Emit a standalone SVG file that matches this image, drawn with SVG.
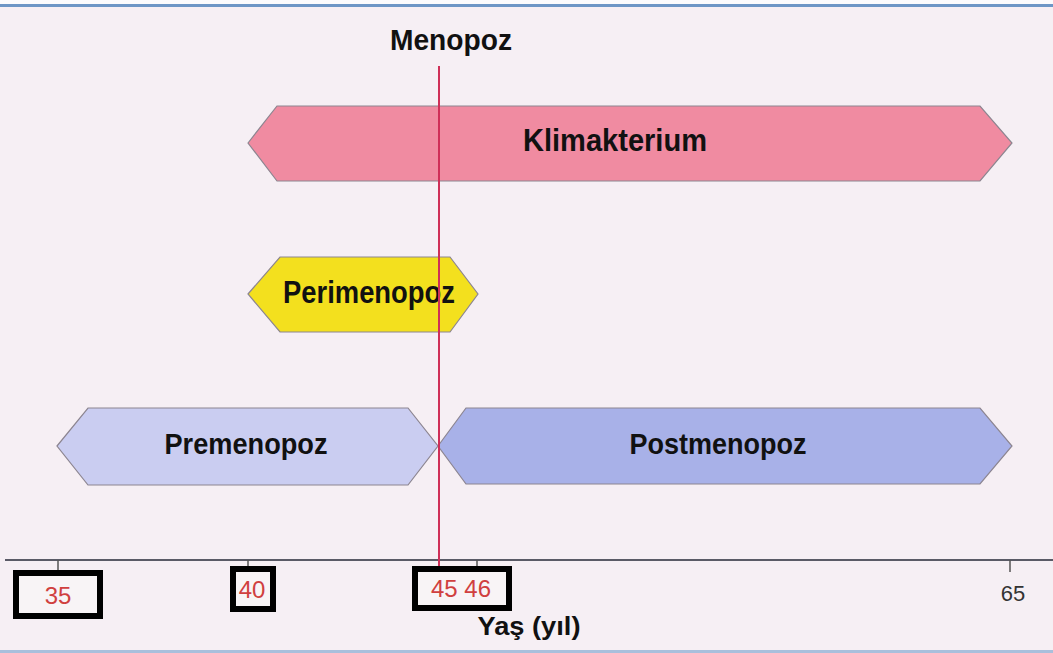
<svg xmlns="http://www.w3.org/2000/svg" width="1053" height="653" viewBox="0 0 1053 653">
<style>
.lbl{font-family:"Liberation Sans Narrow","Liberation Sans",Arial,sans-serif;font-weight:bold;fill:#111;text-anchor:middle}
.hex{stroke:#8c8590;stroke-width:1.2}
.num{font-family:"Liberation Sans",Arial,sans-serif;font-size:24px;fill:#d0403f;text-anchor:middle}
.box{fill:#f8f4f6;stroke:#000;stroke-width:6}
.tick{stroke:#555;stroke-width:1.5}
</style>
<rect x="0" y="0" width="1053" height="653" fill="#f6eff4"/>
<rect x="0" y="0" width="1053" height="4" fill="#fbfbfd"/>
<rect x="0" y="4" width="1053" height="3" fill="#6d96c6"/>
<rect x="0" y="650" width="1053" height="3" fill="#a9bfdc"/>

<g id="menopoz">
<text class="lbl" x="451" y="50" font-size="29" textLength="122" lengthAdjust="spacingAndGlyphs">Menopoz</text>
</g>

<g id="klimakterium">
<polygon class="hex" fill="#f08ba1" points="248,143 277,106 980,106 1012,143 980,181 277,181"/>
<text class="lbl" x="615" y="151" font-size="31" textLength="184" lengthAdjust="spacingAndGlyphs">Klimakterium</text>
</g>

<g id="perimenopoz">
<polygon class="hex" fill="#f3e01e" points="248,294 280,257 450,257 478,294 450,332 280,332"/>
<text class="lbl" x="369" y="303" font-size="31" textLength="172" lengthAdjust="spacingAndGlyphs">Perimenopoz</text>
</g>

<g id="premenopoz">
<polygon class="hex" fill="#cacdf1" points="57,446 88,408 408,408 438,446 408,485 88,485"/>
<text class="lbl" x="246" y="454" font-size="30" textLength="163" lengthAdjust="spacingAndGlyphs">Premenopoz</text>
</g>

<g id="postmenopoz">
<polygon class="hex" fill="#a8b1e8" points="438,446 466,408 980,408 1012,446 980,484 466,484"/>
<text class="lbl" x="718" y="454" font-size="30" textLength="177" lengthAdjust="spacingAndGlyphs">Postmenopoz</text>
</g>

<g id="connectors">
<line x1="5" y1="560" x2="1053" y2="560" stroke="#5a5a66" stroke-width="2"/>
<line class="tick" x1="58" y1="560" x2="58" y2="571"/>
<line class="tick" x1="248" y1="560" x2="248" y2="568"/>
<line class="tick" x1="477" y1="560" x2="477" y2="568"/>
<line class="tick" x1="1010" y1="560" x2="1010" y2="572"/>
<line x1="439" y1="66" x2="439" y2="568" stroke="#cf2f58" stroke-width="2"/>
</g>

<g id="axis-labels">
<rect class="box" x="16" y="573" width="84" height="43"/>
<text class="num" x="58" y="604">35</text>
<rect class="box" x="233" y="569" width="40" height="40"/>
<text class="num" x="252" y="598">40</text>
<rect class="box" x="415" y="569" width="94" height="39"/>
<text class="num" x="461" y="597">45 46</text>
<text x="1013" y="601" font-family="Liberation Sans,Arial,sans-serif" font-size="22" fill="#333" text-anchor="middle">65</text>
<text class="lbl" x="529" y="635" font-size="26" textLength="103" lengthAdjust="spacingAndGlyphs">Yaş (yıl)</text>
</g>
</svg>
